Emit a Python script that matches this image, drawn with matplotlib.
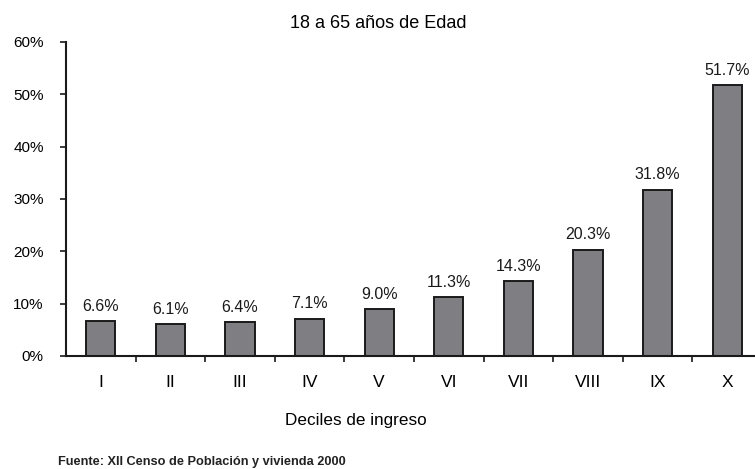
import matplotlib.pyplot as plt
import numpy as np

deciles = ["I", "II", "III", "IV", "V", "VI", "VII", "VIII", "IX", "X"]
valores = [6.6, 6.1, 6.4, 7.1, 9.0, 11.3, 14.3, 20.3, 31.8, 51.7]
etiquetas = ["6.6%", "6.1%", "6.4%", "7.1%", "9.0%", "11.3%", "14.3%", "20.3%", "31.8%", "51.7%"]
yticks = [0, 10, 20, 30, 40, 50, 60]

plt.rcParams["font.family"] = ["Liberation Sans", "DejaVu Sans"]

fig = plt.figure(figsize=(7.55, 4.69), dpi=100)
ax = fig.add_axes([0.0874, 0.241, 0.9126, 0.6695])

x = np.arange(len(deciles))
ax.bar(x, valores, width=0.42, color="#7f7f83", edgecolor="#1a1a1a", linewidth=1.4)

for xi, v, lab in zip(x, valores, etiquetas):
    ax.text(xi, v + 1.4, lab, ha="center", va="bottom", fontsize=11.5, color="#1a1a1a")

ax.set_xlim(-0.5, 9.4)
ax.set_ylim(0, 60)
ax.set_yticks(yticks)
ax.set_yticklabels([f"{t}%" for t in yticks], fontsize=11)
ax.set_xticks(x)
ax.set_xticklabels(deciles, fontsize=12.5)
ax.tick_params(axis="x", which="major", length=0, pad=14)
ax.set_xticks(x[:-1] + 0.5, minor=True)
ax.tick_params(axis="x", which="minor", length=4, width=1.2, direction="out", color="#1a1a1a")
ax.tick_params(axis="y", length=4, width=1.2, direction="out", color="#1a1a1a", pad=12)

for s in ["top", "right"]:
    ax.spines[s].set_visible(False)
for s in ["left", "bottom"]:
    ax.spines[s].set_linewidth(1.5)
    ax.spines[s].set_color("#1a1a1a")

fig.text(378 / 755, 1 - 23 / 469, "18 a 65 años de Edad", ha="center", va="center", fontsize=13)
fig.text(356 / 755, 1 - 420 / 469, "Deciles de ingreso", ha="center", va="center", fontsize=12.3)
fig.text(58 / 755, 1 - 462 / 469, "Fuente: XII Censo de Población y vivienda 2000", ha="left", va="center",
         fontsize=9.2, fontweight="bold", color="#222222")

fig.savefig("out.png", dpi=100)
